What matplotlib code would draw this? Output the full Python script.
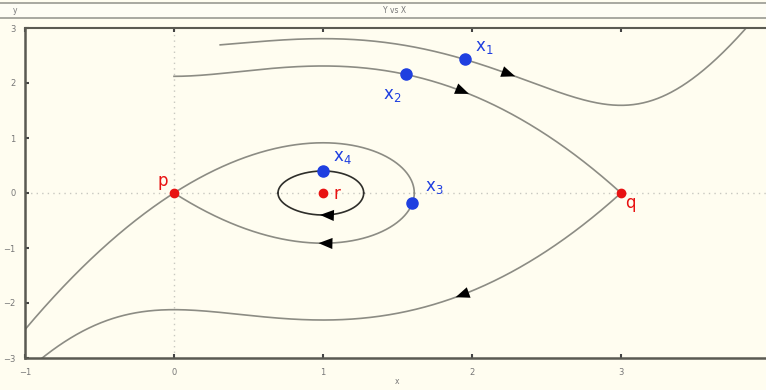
import numpy as np
import matplotlib
matplotlib.use("Agg")
import matplotlib.pyplot as plt

# phase plane of x' = y, y' = x (x - 1) (x - 3)
equilibria_x = [0.0, 3.0, 1.0]
equilibria_y = [0.0, 0.0, 0.0]
equilibria_names = ["p", "q", "r"]

points_x = [1.95, 1.56, 1.60, 1.00]
points_y = [2.43, 2.155, -0.185, 0.40]
points_names = ["1", "2", "3", "4"]

# x-ranges of the drawn branches of each trajectory
top_start = 0.31
arrow_x = [2.29, 1.98, 1.89, 0.97, 0.98]

BG = "#fffdf0"
CURVE = "#8c8c84"
BLUE = "#1f3fe0"
RED = "#e81212"


def g(x):
    return x**4 / 4 - 4 * x**3 / 3 + 3 * x**2 / 2


def energy(x, y):
    return y**2 / 2 - g(x)


def branch(E, a, b, sign, n=600):
    t = np.linspace(0, np.pi, n)
    x = a + (b - a) * (1 - np.cos(t)) / 2
    y = sign * np.sqrt(np.clip(2 * (E + g(x)), 0, None))
    return x, y


def turning_points(E):
    r = np.roots([0.25, -4 / 3, 1.5, 0, E])
    return np.sort(r[np.abs(r.imag) < 1e-6].real)


fig = plt.figure(figsize=(7.66, 3.9), dpi=100, facecolor=BG)

# header strip
bar = fig.add_axes([0, 1 - 18 / 390, 1, 15 / 390], facecolor="#fefdf4")
bar.set_xticks([])
bar.set_yticks([])
for s in ["left", "right"]:
    bar.spines[s].set_visible(False)
for s in ["top", "bottom"]:
    bar.spines[s].set_color("#9a9a92")
    bar.spines[s].set_linewidth(1.2)
bar.text(0.02, 0.5, "y", fontsize=5.5, color="#777", va="center", ha="center",
         transform=bar.transAxes)
bar.text(0.515, 0.5, "Y vs X", fontsize=5.5, color="#777", va="center",
         ha="center", transform=bar.transAxes)

ax = fig.add_axes([25 / 766, 32 / 390, 745 / 766, 330 / 390], facecolor=BG)
ax.set_xlim(-1, 4)
ax.set_ylim(-3, 3)

ax.axhline(0, color="#c8c8c0", lw=1, ls=(0, (1, 3)), zorder=0)
ax.axvline(0, color="#c8c8c0", lw=1, ls=(0, (1, 3)), zorder=0)

kw = dict(color=CURVE, lw=1.2, zorder=2)

# orbit through x1
E1 = energy(points_x[0], points_y[0])
ax.plot(*branch(E1, top_start, 4.0, 1), **kw)

# separatrix through q (contains x2)
Eq = energy(equilibria_x[1], equilibria_y[1])
ax.plot(*branch(Eq, 0.0, 3.0, 1), **kw)
ax.plot(*branch(Eq, -1.0, 3.0, -1), **kw)

# homoclinic loop through p (contains x3)
Ep = energy(equilibria_x[0], equilibria_y[0])
tp = turning_points(Ep)
right = tp[(tp > 0.5) & (tp < 3)][0]
for sgn in (1, -1):
    ax.plot(*branch(Ep, 0.0, right, sgn), **kw)
ax.plot(*branch(Ep, -1.0, 0.0, -1), **kw)

# closed orbit around r through x4
E4 = energy(points_x[3], points_y[3])
tp4 = turning_points(E4)
tp4 = tp4[(tp4 > 0.2) & (tp4 < 2)]
for sgn in (1, -1):
    ax.plot(*branch(E4, tp4[0], tp4[-1], sgn), color="#2e2e2a", lw=1.2, zorder=2)

# direction arrows
arrow_E = [E1, Eq, Eq, Ep, E4]
arrow_sign = [1, 1, -1, -1, -1]
for xa, E, sgn in zip(arrow_x, arrow_E, arrow_sign):
    ya = sgn * np.sqrt(2 * (E + g(xa)))
    dx, dy = ya, xa * (xa - 1) * (xa - 3)
    p0 = ax.transData.transform((xa, ya))
    d = ax.transData.transform((xa + dx * 1e-3, ya + dy * 1e-3)) - p0
    d = d / np.hypot(*d)
    tail = ax.transData.inverted().transform(p0 - d * 13)
    ax.annotate("", xy=(xa, ya), xytext=tail,
                arrowprops=dict(arrowstyle="-|>,head_length=1.0,head_width=0.4",
                                color="black", lw=0, shrinkA=0, shrinkB=0),
                zorder=4)

# labelled points
ax.plot(points_x, points_y, "o", color=BLUE, ms=8, zorder=5)
offsets = [(14, 9), (-10, -15), (16, 12), (14, 10)]
for x, y, n, off in zip(points_x, points_y, points_names, offsets):
    ax.annotate(r"$\mathregular{x_{%s}}$" % n, (x, y), xytext=off,
                textcoords="offset points", color=BLUE, fontsize=12,
                ha="center", va="center", zorder=6)

ax.plot(equilibria_x, equilibria_y, "o", color=RED, ms=6, zorder=5)
eq_offsets = [(-8, 9), (7, -7), (10, -1)]
for x, y, n, off in zip(equilibria_x, equilibria_y, equilibria_names, eq_offsets):
    ax.annotate(n, (x, y), xytext=off, textcoords="offset points",
                color=RED, fontsize=12, ha="center", va="center", zorder=6)

# frame and ticks
ax.set_xticks([-1, 0, 1, 2, 3])
ax.set_yticks([-3, -2, -1, 0, 1, 2, 3])
ax.tick_params(direction="in", length=3, width=1.5, color="#444",
               labelsize=6, labelcolor="#777", top=True, right=True,
               pad=7)
for s in ["left", "bottom", "top", "right"]:
    ax.spines[s].set_color("#5a5a52")
    ax.spines[s].set_linewidth(1.8)
ax.spines["top"].set_linewidth(1.5)

fig.text(397 / 766, 1 - 381 / 390, "x", fontsize=5.5, color="#777",
         ha="center", va="center")

fig.savefig("out.png", dpi=100, facecolor=BG)
